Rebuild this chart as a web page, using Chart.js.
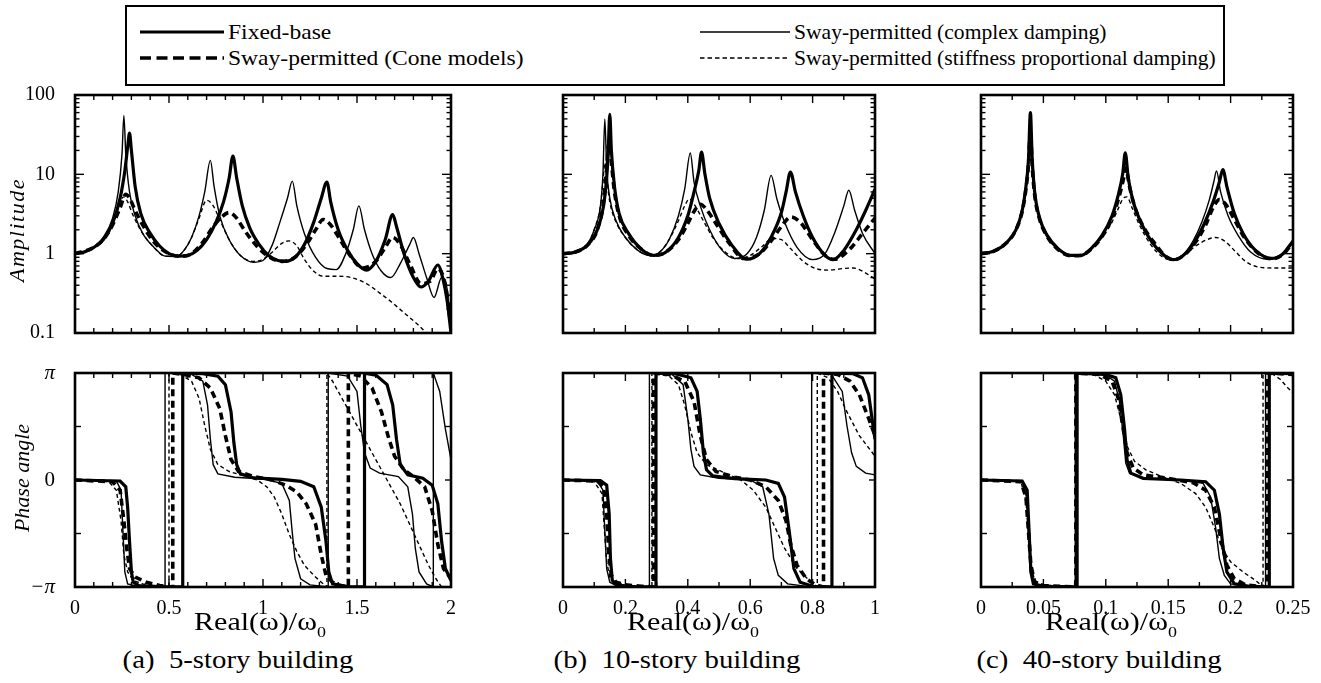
<!DOCTYPE html>
<html lang="en">
<head>
<meta charset="UTF-8">
<title>Amplitude and phase of building response</title>
<script src="https://cdn.jsdelivr.net/npm/chart.js"></script>
<style>
  body { margin: 0; background: #fff; }
  #page { position: relative; width: 1321px; height: 683px; overflow: hidden;
          font-family: "Liberation Serif", "Times New Roman", serif; color: #000; }
  .txt { position: absolute; white-space: pre; line-height: 1; }
  .legend { position: absolute; left: 125px; top: 5px; width: 1096px; height: 77px; border: 2.5px solid #000; }
  .lg { position: absolute; }
  .lgt { position: absolute; font-size: 22px; white-space: nowrap; line-height: 1; transform-origin: left center; }
</style>
</head>
<body>
<div id="page">
  <div class="legend"></div>
  <svg class="lg" style="left:140px;top:26px" width="84" height="12"><line x1="0" y1="6" x2="84" y2="6" stroke="#000" stroke-width="3.2"/></svg>
  <div class="lgt" style="left:228px;top:32px;transform:translateY(-50%) scaleX(1.07)">Fixed-base</div>
  <svg class="lg" style="left:140px;top:52px" width="84" height="12"><line x1="0" y1="6" x2="84" y2="6" stroke="#000" stroke-width="3.6" stroke-dasharray="11 5.5"/></svg>
  <div class="lgt" style="left:228px;top:58px;transform:translateY(-50%) scaleX(1.07)">Sway-permitted (Cone models)</div>
  <svg class="lg" style="left:700px;top:26px" width="90" height="12"><line x1="0" y1="6" x2="90" y2="6" stroke="#000" stroke-width="1.4"/></svg>
  <div class="lgt" style="left:794px;top:32px;transform:translateY(-50%) scaleX(0.98)">Sway-permitted (complex damping)</div>
  <svg class="lg" style="left:700px;top:52px" width="90" height="12"><line x1="0" y1="6" x2="90" y2="6" stroke="#000" stroke-width="1.4" stroke-dasharray="4.5 3"/></svg>
  <div class="lgt" style="left:794px;top:58px;transform:translateY(-50%) scaleX(0.98)">Sway-permitted (stiffness proportional damping)</div>
</div>

<script>
// ---- data ----
const PI = Math.PI;
const seriesNames = ['Fixed-base', 'Sway-permitted (Cone models)', 'Sway-permitted (complex damping)', 'Sway-permitted (stiffness proportional damping)'];

const xTicksA = [0, 0.5, 1, 1.5, 2];
const xTicksB = [0, 0.2, 0.4, 0.6, 0.8, 1];
const xTicksC = [0, 0.05, 0.1, 0.15, 0.2, 0.25];
const ampTicks = [0.1, 1, 10, 100];
const ampTickLabels = ['0.1', '1', '10', '100'];
const phaseTicks = [-PI, -PI / 2, 0, PI / 2, PI];
const phaseTickLabels = ['\u2212\u03c0', '', '0', '', '\u03c0'];
const captions = ['(a)  5-story building', '(b)  10-story building', '(c)  40-story building'];

// (a) 5-story: amplitude
const ampA_fixed = [[0,1],[0.05,1.05],[0.1,1.2],[0.15,1.5],[0.2,2.4],[0.24,5],[0.265,11],[0.28,22],[0.29,33],[0.3,20],[0.32,7],[0.35,3.2],[0.4,1.8],[0.45,1.25],[0.5,1.0],[0.55,0.93],[0.6,0.95],[0.65,1.1],[0.7,1.5],[0.75,2.5],[0.79,4.5],[0.82,9],[0.84,17],[0.86,9],[0.89,4],[0.93,2.1],[0.98,1.3],[1.03,0.95],[1.08,0.82],[1.12,0.8],[1.17,0.9],[1.22,1.3],[1.27,2.5],[1.31,5],[1.34,8],[1.36,4.5],[1.4,2],[1.45,1.1],[1.5,0.75],[1.55,0.62],[1.6,0.8],[1.65,1.5],[1.69,3.1],[1.71,2.2],[1.75,1.0],[1.8,0.5],[1.84,0.38],[1.88,0.45],[1.93,0.72],[1.96,0.45],[1.98,0.25],[2.0,0.1]];
const ampA_cone = [[0,1],[0.1,1.2],[0.15,1.5],[0.2,2.3],[0.24,3.8],[0.27,5.6],[0.29,5.0],[0.32,3.5],[0.36,2.3],[0.42,1.4],[0.5,1.0],[0.56,0.93],[0.62,1.0],[0.68,1.4],[0.73,2.1],[0.78,2.9],[0.82,3.3],[0.86,2.8],[0.9,2.0],[0.96,1.3],[1.03,0.92],[1.1,0.8],[1.17,0.9],[1.23,1.3],[1.28,2.0],[1.32,2.7],[1.36,2.3],[1.41,1.5],[1.47,0.9],[1.53,0.66],[1.6,0.8],[1.65,1.2],[1.69,1.6],[1.73,1.3],[1.78,0.75],[1.84,0.42],[1.89,0.45],[1.93,0.65],[1.97,0.4],[2.0,0.12]];
const ampA_complex = [[0,1],[0.05,1.05],[0.1,1.2],[0.15,1.6],[0.2,2.8],[0.23,6],[0.25,18],[0.26,55],[0.27,18],[0.29,6],[0.32,3],[0.36,1.8],[0.42,1.2],[0.48,0.93],[0.54,0.92],[0.58,1.1],[0.62,1.6],[0.66,3],[0.69,6],[0.72,15],[0.74,7],[0.77,3],[0.82,1.5],[0.88,0.95],[0.95,0.78],[1.0,0.82],[1.05,1.3],[1.09,2.5],[1.13,5],[1.156,8.2],[1.18,4],[1.22,1.8],[1.28,0.9],[1.34,0.65],[1.39,0.63],[1.44,1.0],[1.48,2],[1.51,4],[1.54,2],[1.58,1.0],[1.63,0.6],[1.68,0.5],[1.73,0.75],[1.78,1.3],[1.8,1.6],[1.83,1.0],[1.87,0.5],[1.91,0.28],[1.95,0.5],[1.98,0.35],[2.0,0.1]];
const ampA_stiff = [[0,1],[0.1,1.2],[0.15,1.55],[0.2,2.5],[0.23,4],[0.26,5.2],[0.28,4.5],[0.31,3.0],[0.36,1.8],[0.42,1.2],[0.48,0.93],[0.54,0.93],[0.58,1.1],[0.62,1.6],[0.66,2.8],[0.7,4.7],[0.73,4.2],[0.77,2.7],[0.82,1.5],[0.88,0.95],[0.95,0.8],[1.0,0.85],[1.05,1.05],[1.1,1.35],[1.14,1.45],[1.18,1.25],[1.22,0.85],[1.27,0.6],[1.32,0.52],[1.4,0.52],[1.47,0.5],[1.55,0.42],[1.62,0.32],[1.68,0.25],[1.75,0.18],[1.82,0.13],[1.87,0.1]];

// (a) 5-story: phase angle
const phaseA_fixed = [[0,0],[0.24,-0.03],[0.27,-0.2],[0.28,-0.8],[0.29,-1.8],[0.3,-2.7],[0.31,-3.0],[0.34,-3.1],[0.45,-3.13],[0.573,-3.14],[0.573,3.14],[0.68,3.12],[0.76,3.05],[0.8,2.8],[0.83,2.0],[0.845,1.1],[0.86,0.45],[0.88,0.18],[0.95,0.06],[1.1,0.02],[1.2,-0.04],[1.27,-0.2],[1.31,-0.8],[1.335,-1.8],[1.35,-2.7],[1.37,-3.05],[1.45,-3.13],[1.54,-3.14],[1.54,3.14],[1.6,3.08],[1.66,2.8],[1.69,2.2],[1.71,1.2],[1.73,0.45],[1.77,0.15],[1.85,0.05],[1.9,-0.15],[1.93,-0.7],[1.95,-1.8],[1.97,-2.6],[2.0,-2.95]];
const phaseA_cone = [[0,0],[0.2,-0.05],[0.24,-0.3],[0.26,-1.2],[0.275,-2.0],[0.29,-2.6],[0.32,-2.85],[0.38,-3.0],[0.45,-3.1],[0.52,-3.14],[0.52,3.14],[0.58,3.1],[0.66,3.0],[0.72,2.7],[0.77,2.1],[0.8,1.3],[0.83,0.6],[0.87,0.25],[0.95,0.1],[1.05,0.0],[1.12,-0.15],[1.18,-0.35],[1.23,-0.7],[1.28,-1.3],[1.31,-2.2],[1.335,-2.8],[1.37,-3.0],[1.41,-3.1],[1.454,-3.14],[1.454,3.14],[1.52,3.05],[1.58,2.7],[1.63,2.0],[1.67,1.2],[1.7,0.7],[1.75,0.3],[1.8,0.1],[1.86,-0.2],[1.9,-0.9],[1.93,-1.9],[1.96,-2.6],[2.0,-2.9]];
const phaseA_complex = [[0,0],[0.22,-0.03],[0.245,-0.3],[0.255,-1.5],[0.265,-2.7],[0.28,-3.05],[0.33,-3.12],[0.479,-3.14],[0.479,3.14],[0.62,3.1],[0.68,2.9],[0.705,2.2],[0.72,1.2],[0.735,0.45],[0.76,0.18],[0.85,0.08],[1.0,0.03],[1.1,-0.1],[1.14,-0.6],[1.155,-1.5],[1.17,-2.3],[1.2,-2.9],[1.25,-3.08],[1.347,-3.14],[1.347,3.14],[1.45,3.05],[1.5,2.6],[1.52,1.6],[1.54,0.8],[1.57,0.35],[1.62,0.2],[1.72,0.1],[1.77,-0.2],[1.795,-1.0],[1.81,-2.0],[1.83,-2.7],[1.87,-3.05],[1.906,-3.14],[1.906,3.14],[1.94,2.6],[1.97,1.5],[2.0,0.6]];
const phaseA_stiff = [[0,0],[0.18,-0.05],[0.22,-0.3],[0.245,-1.2],[0.26,-2.2],[0.28,-2.7],[0.31,-2.95],[0.36,-3.05],[0.45,-3.12],[0.5,-3.14],[0.5,3.14],[0.56,3.1],[0.62,2.9],[0.66,2.4],[0.69,1.6],[0.72,0.9],[0.76,0.45],[0.82,0.25],[0.9,0.12],[0.97,0.0],[1.02,-0.2],[1.06,-0.5],[1.1,-1.0],[1.14,-1.6],[1.18,-2.1],[1.22,-2.5],[1.27,-2.8],[1.31,-3.0],[1.34,-3.14],[1.34,3.14],[1.37,2.9],[1.41,2.5],[1.46,2.0],[1.52,1.4],[1.58,0.8],[1.63,0.3],[1.68,-0.2],[1.73,-0.7],[1.78,-1.3],[1.83,-1.9],[1.88,-2.5],[1.92,-2.9],[1.95,-3.14]];

// (b) 10-story: amplitude
const ampB_fixed = [[0,1],[0.04,1.05],[0.08,1.3],[0.11,2.0],[0.13,4],[0.14,9],[0.145,20],[0.15,57],[0.155,20],[0.165,7],[0.18,3.2],[0.21,1.8],[0.25,1.15],[0.29,0.95],[0.33,1.05],[0.37,1.6],[0.4,3],[0.42,6],[0.435,11],[0.444,19],[0.455,10],[0.47,5],[0.5,2.4],[0.54,1.3],[0.59,0.85],[0.63,1.0],[0.67,1.7],[0.7,3.3],[0.715,6],[0.729,10.7],[0.745,6],[0.77,3],[0.8,1.6],[0.84,0.95],[0.866,0.84],[0.9,1.1],[0.94,2.0],[0.97,3.5],[1.0,6.5]];
const ampB_cone = [[0,1],[0.04,1.05],[0.08,1.3],[0.11,2.0],[0.13,4.5],[0.14,12],[0.147,25],[0.155,14],[0.165,6],[0.18,3],[0.21,1.7],[0.25,1.15],[0.29,0.95],[0.33,1.05],[0.37,1.5],[0.4,2.4],[0.42,3.4],[0.44,4.2],[0.46,3.6],[0.49,2.4],[0.53,1.4],[0.58,0.87],[0.63,1.0],[0.67,1.5],[0.7,2.2],[0.73,2.9],[0.76,2.5],[0.8,1.5],[0.84,0.95],[0.87,0.85],[0.92,1.15],[0.96,1.8],[1.0,2.8]];
const ampB_complex = [[0,1],[0.04,1.05],[0.08,1.35],[0.1,2],[0.12,4],[0.128,10],[0.134,50],[0.14,12],[0.15,5],[0.17,2.6],[0.2,1.6],[0.24,1.1],[0.28,0.95],[0.31,1.05],[0.34,1.5],[0.37,3],[0.39,6.5],[0.408,18.6],[0.42,8],[0.44,4],[0.47,2],[0.51,1.1],[0.55,0.87],[0.59,1.0],[0.62,1.6],[0.645,3.5],[0.667,9.7],[0.685,5],[0.71,2.5],[0.75,1.2],[0.8,0.84],[0.84,1.0],[0.87,1.8],[0.9,4],[0.916,6.3],[0.935,3.5],[0.96,1.8],[1.0,1.0]];
const ampB_stiff = [[0,1],[0.04,1.05],[0.08,1.35],[0.1,2],[0.12,4],[0.128,8],[0.134,14],[0.14,9],[0.15,4.5],[0.17,2.5],[0.2,1.6],[0.24,1.1],[0.28,0.95],[0.31,1.05],[0.34,1.5],[0.37,2.6],[0.39,4],[0.405,4.9],[0.42,4.2],[0.45,2.6],[0.48,1.6],[0.52,1.05],[0.56,0.87],[0.6,0.95],[0.64,1.25],[0.67,1.55],[0.7,1.5],[0.73,1.15],[0.77,0.8],[0.81,0.65],[0.85,0.62],[0.9,0.65],[0.93,0.66],[0.96,0.6],[1.0,0.48]];

// (b) 10-story: phase angle
const phaseB_fixed = [[0,0],[0.12,-0.02],[0.14,-0.15],[0.148,-1.0],[0.152,-2.3],[0.158,-2.95],[0.17,-3.08],[0.22,-3.13],[0.298,-3.14],[0.298,3.14],[0.36,3.12],[0.41,3.0],[0.43,2.6],[0.44,1.8],[0.45,0.8],[0.46,0.3],[0.48,0.12],[0.55,0.04],[0.65,0.0],[0.69,-0.1],[0.71,-0.5],[0.725,-1.5],[0.74,-2.6],[0.76,-3.0],[0.8,-3.12],[0.862,-3.14],[0.862,3.14],[0.93,3.12],[0.96,3.0],[0.98,2.5],[0.995,1.5],[1.0,1.2]];
const phaseB_cone = [[0,0],[0.11,-0.03],[0.13,-0.2],[0.14,-1.0],[0.147,-2.2],[0.155,-2.8],[0.17,-3.0],[0.2,-3.08],[0.25,-3.12],[0.29,-3.14],[0.29,3.14],[0.34,3.1],[0.39,2.9],[0.42,2.3],[0.44,1.3],[0.46,0.6],[0.49,0.25],[0.55,0.08],[0.6,0.0],[0.65,-0.2],[0.69,-0.6],[0.715,-1.2],[0.73,-1.9],[0.75,-2.5],[0.78,-2.9],[0.81,-3.08],[0.835,-3.14],[0.835,3.14],[0.88,3.1],[0.92,2.9],[0.95,2.5],[0.98,1.8],[1.0,1.3]];
const phaseB_complex = [[0,0],[0.11,-0.03],[0.128,-0.3],[0.134,-1.5],[0.14,-2.6],[0.15,-3.0],[0.17,-3.1],[0.277,-3.14],[0.277,3.14],[0.35,3.1],[0.385,2.8],[0.4,1.8],[0.41,0.9],[0.42,0.4],[0.44,0.15],[0.5,0.05],[0.6,0.0],[0.64,-0.2],[0.66,-1.0],[0.667,-1.6],[0.675,-2.3],[0.69,-2.8],[0.72,-3.05],[0.797,-3.14],[0.797,3.14],[0.86,3.1],[0.895,2.6],[0.91,1.6],[0.925,0.8],[0.94,0.4],[0.97,0.2],[1.0,0.15]];
const phaseB_stiff = [[0,0],[0.1,-0.05],[0.125,-0.4],[0.133,-1.5],[0.14,-2.4],[0.15,-2.85],[0.17,-3.02],[0.21,-3.1],[0.285,-3.14],[0.285,3.14],[0.34,3.05],[0.37,2.8],[0.39,2.2],[0.41,1.4],[0.43,0.8],[0.46,0.45],[0.52,0.2],[0.57,0.0],[0.61,-0.3],[0.65,-0.8],[0.68,-1.4],[0.71,-2.0],[0.75,-2.6],[0.79,-2.95],[0.815,-3.14],[0.815,3.14],[0.85,3.0],[0.88,2.6],[0.91,2.0],[0.95,1.3],[1.0,0.7]];

// (c) 40-story: amplitude
const ampC_fixed = [[0,1],[0.01,1.07],[0.02,1.35],[0.028,2],[0.033,3.5],[0.036,7],[0.038,15],[0.0396,60],[0.041,16],[0.043,6],[0.047,2.8],[0.053,1.7],[0.062,1.15],[0.072,0.95],[0.08,0.95],[0.088,1.15],[0.097,1.7],[0.105,3],[0.11,5.5],[0.1135,10],[0.1156,18.6],[0.118,9],[0.122,4.5],[0.128,2.5],[0.137,1.4],[0.147,0.95],[0.154,0.84],[0.162,0.95],[0.171,1.4],[0.179,2.4],[0.186,4.5],[0.191,8],[0.1938,11.5],[0.197,7],[0.203,3.2],[0.21,1.8],[0.22,1.1],[0.233,0.87],[0.242,1.0],[0.25,1.45]];
const ampC_cone = [[0,1],[0.01,1.07],[0.02,1.35],[0.028,2],[0.033,3.4],[0.036,6.5],[0.038,13],[0.0396,35],[0.041,13],[0.043,5.5],[0.047,2.7],[0.053,1.65],[0.062,1.12],[0.072,0.94],[0.08,0.95],[0.088,1.13],[0.097,1.65],[0.105,2.8],[0.11,4.8],[0.114,8.5],[0.116,12],[0.119,7],[0.123,4],[0.13,2.2],[0.14,1.3],[0.148,0.92],[0.155,0.84],[0.163,0.97],[0.172,1.4],[0.18,2.3],[0.186,3.8],[0.191,4.8],[0.196,4.2],[0.203,2.7],[0.211,1.6],[0.221,1.05],[0.233,0.86],[0.242,0.98],[0.25,1.4]];
const ampC_complex = [[0,1],[0.01,1.07],[0.02,1.35],[0.028,2],[0.033,3.5],[0.036,7],[0.038,15],[0.0394,55],[0.041,15],[0.043,6],[0.047,2.8],[0.053,1.7],[0.062,1.15],[0.072,0.95],[0.08,0.95],[0.088,1.15],[0.097,1.7],[0.105,3],[0.11,5.5],[0.1135,10],[0.1152,17.5],[0.118,8.5],[0.122,4.3],[0.128,2.4],[0.137,1.35],[0.147,0.93],[0.154,0.84],[0.162,0.97],[0.17,1.45],[0.177,2.5],[0.183,4.8],[0.1865,8],[0.1887,11],[0.192,6],[0.198,3],[0.206,1.7],[0.216,1.05],[0.23,0.85],[0.24,0.95],[0.25,1.35]];
const ampC_stiff = [[0,1],[0.01,1.07],[0.02,1.35],[0.028,2],[0.033,3.4],[0.036,6.5],[0.038,12],[0.0394,30],[0.041,12],[0.043,5.5],[0.047,2.7],[0.053,1.65],[0.062,1.12],[0.072,0.94],[0.08,0.95],[0.088,1.12],[0.097,1.6],[0.105,2.5],[0.11,3.7],[0.114,5],[0.117,5.2],[0.121,3.8],[0.127,2.3],[0.136,1.3],[0.146,0.9],[0.154,0.84],[0.163,0.97],[0.172,1.25],[0.181,1.5],[0.188,1.6],[0.195,1.45],[0.203,1.1],[0.212,0.8],[0.222,0.68],[0.235,0.66],[0.25,0.66]];

// (c) 40-story: phase angle
const phaseC_fixed = [[0,0],[0.033,-0.03],[0.037,-0.3],[0.0385,-1.5],[0.04,-2.7],[0.042,-3.05],[0.05,-3.12],[0.077,-3.14],[0.077,3.14],[0.1,3.1],[0.108,3.0],[0.112,2.5],[0.115,1.5],[0.117,0.6],[0.12,0.2],[0.13,0.05],[0.16,0.0],[0.18,-0.05],[0.187,-0.3],[0.191,-1.0],[0.194,-2.0],[0.197,-2.7],[0.203,-3.05],[0.215,-3.12],[0.231,-3.14],[0.231,3.14],[0.25,3.12]];
const phaseC_cone = [[0,0],[0.032,-0.05],[0.036,-0.5],[0.038,-1.5],[0.04,-2.5],[0.043,-3.0],[0.05,-3.1],[0.076,-3.14],[0.076,3.14],[0.095,3.1],[0.105,2.9],[0.11,2.4],[0.114,1.5],[0.117,0.8],[0.122,0.35],[0.13,0.15],[0.15,0.05],[0.17,-0.08],[0.18,-0.3],[0.187,-0.8],[0.192,-1.7],[0.197,-2.5],[0.203,-2.9],[0.212,-3.08],[0.229,-3.14],[0.229,3.14],[0.25,3.1]];
const phaseC_complex = [[0,0],[0.033,-0.04],[0.0365,-0.5],[0.038,-1.6],[0.0395,-2.7],[0.042,-3.05],[0.05,-3.12],[0.0755,-3.14],[0.0755,3.14],[0.1,3.08],[0.107,2.9],[0.111,2.3],[0.114,1.3],[0.116,0.5],[0.119,0.2],[0.13,0.05],[0.16,0.0],[0.178,-0.1],[0.184,-0.5],[0.188,-1.4],[0.191,-2.3],[0.195,-2.8],[0.2,-3.05],[0.215,-3.12],[0.228,-3.14],[0.228,3.14],[0.25,3.12]];
const phaseC_stiff = [[0,0],[0.032,-0.05],[0.036,-0.6],[0.038,-1.6],[0.04,-2.5],[0.043,-2.95],[0.05,-3.08],[0.076,-3.14],[0.076,3.14],[0.09,3.1],[0.1,2.9],[0.107,2.5],[0.112,1.8],[0.117,1.0],[0.123,0.55],[0.132,0.3],[0.145,0.1],[0.16,-0.1],[0.172,-0.4],[0.18,-0.8],[0.187,-1.4],[0.193,-2.0],[0.2,-2.4],[0.21,-2.7],[0.22,-2.95],[0.226,-3.14],[0.226,3.14],[0.234,3.1],[0.24,2.95],[0.246,2.7],[0.25,2.55]];

// ---- layout ----
const page = document.getElementById('page');
const cols = [[75, 451], [488, 875], [906, 1293]];
const ampRow = [95, 363];
const phaseRow = [373, 587];
const lineStyles = [
  { borderWidth: 3.2, borderDash: [] },
  { borderWidth: 3.6, borderDash: [7, 4.5] },
  { borderWidth: 1.4, borderDash: [] },
  { borderWidth: 1.4, borderDash: [4, 3] }
];

// box round the plot, ticks pointing inwards on all four sides
const framePlugin = {
  id: 'frame',
  afterDatasetsDraw(chart, args, o) {
    const { ctx, chartArea: a } = chart;
    const xs = chart.scales.x, ys = chart.scales.y;
    const seg = (x1, y1, x2, y2) => { ctx.beginPath(); ctx.moveTo(x1, y1); ctx.lineTo(x2, y2); ctx.stroke(); };
    ctx.save();
    ctx.strokeStyle = '#000';
    ctx.lineWidth = 1.4;
    const n = Math.round(o.xMax / o.xStep);
    for (let i = 0; i <= n; i++) {
      const px = xs.getPixelForValue(i * o.xStep);
      const len = i % o.xMajor === 0 ? 8 : 5;
      seg(px, a.bottom, px, a.bottom - len);
      seg(px, a.top, px, a.top + len);
    }
    if (o.yKind === 'amp') {
      [0.1, 1, 10].forEach(d => {
        for (let m = 1; m <= 9; m++) {
          const py = ys.getPixelForValue(m * d);
          const len = m === 1 ? 9 : 4.5;
          seg(a.left, py, a.left + len, py);
          seg(a.right, py, a.right - len, py);
        }
      });
    } else {
      phaseTicks.forEach(v => {
        const py = ys.getPixelForValue(v);
        seg(a.left, py, a.left + 6, py);
        seg(a.right, py, a.right - 6, py);
      });
    }
    ctx.lineWidth = 2.6;
    ctx.strokeRect(a.left, a.top, a.right - a.left, a.bottom - a.top);
    ctx.restore();
  }
};

function makePanel(col, kind, seriesData, xTicks, xStep, xMajor) {
  const padL = col === 0 ? 75 : 20, padT = 30, padR = 30;
  const padB = kind === 'amp' ? 30 : 45;
  const [x0, x1] = cols[col];
  const [y0, y1] = kind === 'amp' ? ampRow : phaseRow;
  const w = x1 - x0 + padL + padR, h = y1 - y0 + padT + padB;
  const canvas = document.createElement('canvas');
  canvas.width = w; canvas.height = h;
  canvas.style.cssText = `position:absolute;left:${x0 - padL}px;top:${y0 - padT}px;width:${w}px;height:${h}px`;
  page.appendChild(canvas);

  const xMax = xTicks[xTicks.length - 1];
  const yScale = kind === 'amp'
    ? { type: 'logarithmic', min: 0.1, max: 100,
        afterBuildTicks: s => { s.ticks = ampTicks.map(v => ({ value: v })); },
        ticks: { callback: (v, i) => ampTickLabels[i], padding: 12, color: '#000',
                 font: { family: 'Liberation Serif', size: 20 } } }
    : { type: 'linear', min: -PI, max: PI,
        afterBuildTicks: s => { s.ticks = phaseTicks.map(v => ({ value: v })); },
        ticks: { callback: (v, i) => phaseTickLabels[i], padding: 12, color: '#000',
                 font: c => ({ family: 'Liberation Serif', size: 21, style: (c.tick && c.tick.value !== 0) ? 'italic' : 'normal' }) } };
  Object.assign(yScale, {
    display: col === 0,
    grid: { display: false }, border: { display: false },
    afterFit: s => { s.width = 75; }
  });

  new Chart(canvas, {
    type: 'line',
    data: {
      datasets: seriesData.map((d, i) => Object.assign({
        label: seriesNames[i], data: d, borderColor: '#000', pointRadius: 0,
        fill: false, tension: 0,
        cubicInterpolationMode: kind === 'amp' ? 'monotone' : 'default'
      }, lineStyles[i]))
    },
    options: {
      responsive: false, animation: false, devicePixelRatio: 1,
      layout: { padding: { left: col === 0 ? 0 : padL, top: padT, right: padR, bottom: kind === 'amp' ? padB : 15 } },
      plugins: { legend: { display: false }, tooltip: { enabled: false },
                 frame: { xStep, xMajor, xMax, yKind: kind } },
      scales: {
        x: { type: 'linear', min: 0, max: xMax, display: kind === 'phase',
             grid: { display: false }, border: { display: false },
             afterBuildTicks: s => { s.ticks = xTicks.map(v => ({ value: v })); },
             afterFit: s => { s.height = 30; },
             ticks: { callback: v => String(v), padding: 2, maxRotation: 0, autoSkip: false, color: '#000',
                      font: { family: 'Liberation Serif', size: 20 } } },
        y: yScale
      }
    },
    plugins: [framePlugin]
  });
}

makePanel(0, 'amp', [ampA_fixed, ampA_cone, ampA_complex, ampA_stiff], xTicksA, 0.1, 5);
makePanel(0, 'phase', [phaseA_fixed, phaseA_cone, phaseA_complex, phaseA_stiff], xTicksA, 0.1, 5);
makePanel(1, 'amp', [ampB_fixed, ampB_cone, ampB_complex, ampB_stiff], xTicksB, 0.1, 2);
makePanel(1, 'phase', [phaseB_fixed, phaseB_cone, phaseB_complex, phaseB_stiff], xTicksB, 0.1, 2);
makePanel(2, 'amp', [ampC_fixed, ampC_cone, ampC_complex, ampC_stiff], xTicksC, 0.025, 2);
makePanel(2, 'phase', [phaseC_fixed, phaseC_cone, phaseC_complex, phaseC_stiff], xTicksC, 0.025, 2);

// axis titles and captions
function addText(html, cx, cy, css) {
  const d = document.createElement('div');
  d.className = 'txt';
  d.innerHTML = html;
  d.style.cssText += `left:${cx}px;top:${cy}px;` + css;
  page.appendChild(d);
}
addText('Amplitude', 17, 230, 'font-size:22px;font-style:italic;letter-spacing:1.5px;transform:translate(-50%,-50%) rotate(-90deg);');
addText('Phase angle', 22, 478, 'font-size:22px;font-style:italic;transform:translate(-50%,-50%) rotate(-90deg);');
const xTitleCenters = [260, 693, 1111];
const captionCenters = [238, 677, 1099];
xTitleCenters.forEach(cx => addText('Real(\u03c9)/\u03c9<span style="font-size:60%;position:relative;top:0.45em">0</span>', cx, 621,
  'font-size:25px;transform:translate(-50%,-50%) scaleX(1.2);'));
captionCenters.forEach((cx, i) => addText(captions[i], cx, 659,
  'font-size:25px;transform:translate(-50%,-50%) scaleX(1.15);'));
</script>
</body>
</html>
